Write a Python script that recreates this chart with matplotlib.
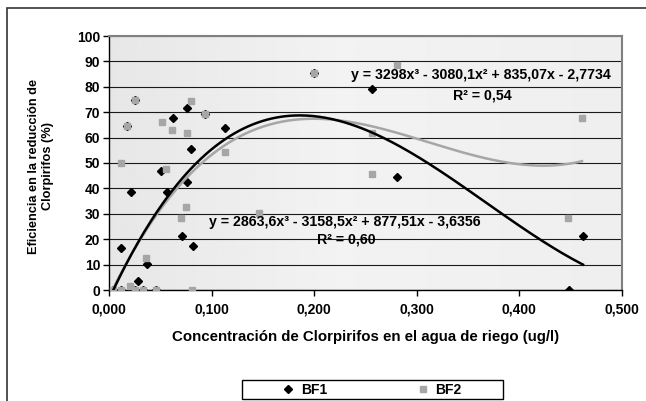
import numpy as np
import matplotlib
matplotlib.use("Agg")
import matplotlib.pyplot as plt
from matplotlib.patches import Rectangle
from matplotlib.lines import Line2D

plt.rcParams['font.family'] = ['Liberation Sans', 'DejaVu Sans']
plt.rcParams['font.weight'] = 'bold'
plt.rcParams['font.size'] = 10

# Data
bf1_x = [0.004, 0.012, 0.025, 0.033, 0.046, 0.012, 0.021, 0.018, 0.025, 0.028,
         0.037, 0.051, 0.057, 0.062, 0.071, 0.076, 0.076, 0.080, 0.082, 0.094,
         0.113, 0.200, 0.256, 0.281, 0.448, 0.462]
bf1_y = [0, 0, 0, 0, 0, 16.4, 38.7, 64.6, 75.0, 3.5,
         10.2, 46.9, 38.7, 67.6, 21.3, 42.6, 71.7, 55.5, 17.4, 69.3,
         63.8, 85.4, 79.0, 44.5, 0, 21.3]

bf2_x = [0.004, 0.012, 0.020, 0.025, 0.033, 0.046, 0.081, 0.012, 0.018, 0.025,
         0.036, 0.052, 0.056, 0.061, 0.070, 0.075, 0.076, 0.080, 0.094, 0.113,
         0.146, 0.200, 0.256, 0.256, 0.281, 0.447, 0.461]
bf2_y = [0, 0, 1.5, 0, 0, 0, 0, 50.0, 64.6, 75.0,
         12.6, 66.0, 47.6, 63.0, 28.3, 32.7, 62.0, 74.4, 69.3, 54.4,
         30.2, 85.4, 61.8, 45.7, 88.6, 28.3, 67.8]

# trendline coefficients as printed on the chart
coef_bf1 = [2863.6, -3158.5, 877.51, -3.6356]
coef_bf2 = [3298, -3080.1, 835.07, -2.7734]
eq_bf1 = "y = 2863,6x³ - 3158,5x² + 877,51x - 3,6356"
r2_bf1 = "R² = 0,60"
eq_bf2 = "y = 3298x³ - 3080,1x² + 835,07x - 2,7734"
r2_bf2 = "R² = 0,54"

x_ticks = [0, 0.1, 0.2, 0.3, 0.4, 0.5]
y_ticks = list(range(0, 101, 10))

W, H = 646, 401
fig = plt.figure(figsize=(W / 100, H / 100), dpi=100)
fig.patch.set_facecolor('white')

# outer chart frame (cut off at right and bottom)
fig.patches.append(Rectangle((7 / W, -0.1), 1.2, 1 - 8 / H + 0.1, transform=fig.transFigure,
                             fill=False, edgecolor='#333333', lw=1.2))

ax = fig.add_axes([109 / W, 1 - 290 / H, (622 - 109) / W, (290 - 36) / H])

# plot area gradient
g = np.interp(np.linspace(0, 1, 200), [0, 0.45, 1], [0.905, 0.95, 0.935])
ax.imshow(g[None, :], extent=[0, 0.5, 0, 100], aspect='auto', cmap='gray',
          vmin=0, vmax=1, zorder=0)

ax.set_axisbelow(True)
ax.yaxis.grid(True, color='#1a1a1a', lw=0.8)

ax.plot(bf1_x, bf1_y, ls='none', marker='D', ms=4.4, color='black', zorder=3)
ax.plot(bf2_x, bf2_y, ls='none', marker='s', ms=5, color='#a6a6a6', zorder=4)

xs1 = np.linspace(min(bf1_x), max(bf1_x), 300)
xs2 = np.linspace(min(bf2_x), max(bf2_x), 300)
ax.plot(xs2, np.polyval(coef_bf2, xs2), color='#a6a6a6', lw=1.8, zorder=5)
ax.plot(xs1, np.polyval(coef_bf1, xs1), color='black', lw=1.8, zorder=6)

ax.set_xlim(0, 0.5)
ax.set_ylim(0, 100)
ax.set_xticks(x_ticks)
ax.set_xticklabels([f"{v:.3f}".replace('.', ',') for v in x_ticks])
ax.set_yticks(y_ticks)
ax.set_yticklabels([str(v) for v in y_ticks])
ax.tick_params(direction='out', length=4.3, width=1, color='black', labelsize=10)
ax.tick_params(axis='x', pad=5)
ax.tick_params(axis='y', pad=2)

for s in ['top', 'right']:
    ax.spines[s].set_color('#808080')
    ax.spines[s].set_linewidth(1.5)
for s in ['left', 'bottom']:
    ax.spines[s].set_color('black')
    ax.spines[s].set_linewidth(1)

def px(x, y):
    return x / W, 1 - y / H

fig.text(*px(481, 75), eq_bf2, ha='center', va='center', fontsize=10.2)
fig.text(*px(482, 95), r2_bf2, ha='center', va='center', fontsize=10.2)
fig.text(*px(345, 222), eq_bf1, ha='center', va='center', fontsize=10.2, zorder=10)
fig.text(*px(346, 240), r2_bf1, ha='center', va='center', fontsize=10.2)

fig.text(*px(366, 337), "Concentración de Clorpirifos en el agua de riego (ug/l)",
         ha='center', va='center', fontsize=10.8)
fig.text(*px(41, 166), "Eficiencia en la reducción de\nClorpirifos (%)",
         ha='center', va='center', rotation=90, multialignment='center',
         fontsize=9.2, linespacing=1.3)

# legend
fig.patches.append(Rectangle((242 / W, 1 - 399 / H), 261 / W, 19 / H,
                             transform=fig.transFigure, facecolor='white',
                             edgecolor='black', lw=1))
handles = [Line2D([], [], ls='none', marker='D', ms=4.4, color='black'),
           Line2D([], [], ls='none', marker='s', ms=5, color='#a6a6a6')]
fig.legend(handles, ['BF1', 'BF2'], loc='center', bbox_to_anchor=px(372, 389.5),
           ncol=2, frameon=False, handlelength=0.8, handletextpad=0.5,
           columnspacing=6.5, borderpad=0, fontsize=10)

fig.savefig('out.png', dpi=100)
